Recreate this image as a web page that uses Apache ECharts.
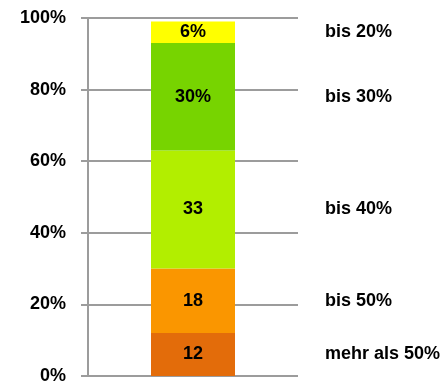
<!DOCTYPE html>
<html>
<head>
<meta charset="utf-8">
<style>
  html, body { margin: 0; padding: 0; background: #ffffff; }
  #chart { width: 445px; height: 385px; }
</style>
<script src="https://cdn.jsdelivr.net/npm/echarts@6/dist/echarts.min.js"></script>
</head>
<body>
<div id="chart"></div>
<script>
// Share of respondents per band, stacked from bottom to top
const bands = ['mehr als 50%', 'bis 50%', 'bis 40%', 'bis 30%', 'bis 20%'];
const shares = [12, 18, 33, 30, 6];
const valueLabels = ['12', '18', '33', '30%', '6%'];
const bandColors = ['#E36C0A', '#FA9600', '#B2EE00', '#77D400', '#FFFF00'];
const yTicks = [0, 20, 40, 60, 80, 100];

const category = ['Anteil'];
const font = 'Liberation Sans, Arial, sans-serif';

// midpoint of every stacked segment, used to place the band names on the right
const mids = [];
let acc = 0;
shares.forEach(v => { mids.push(acc + v / 2); acc += v; });

const barSeries = shares.map((v, i) => ({
  name: bands[i],
  type: 'bar',
  stack: 'total',
  barWidth: 84,
  data: [v],
  itemStyle: { color: bandColors[i] },
  label: {
    show: true,
    position: 'inside',
    formatter: () => valueLabels[i],
    color: '#000000',
    fontFamily: font,
    fontWeight: 'bold',
    fontSize: 18
  },
  emphasis: { disabled: true }
}));

const nameSeries = {
  type: 'scatter',
  symbolSize: 0,
  silent: true,
  itemStyle: { opacity: 1 },
  data: mids.map((m, i) => ({ value: [category[0], m], name: bands[i] })),
  label: {
    show: true,
    position: 'right',
    distance: 132,
    formatter: p => p.name,
    color: '#000000',
    opacity: 1,
    fontFamily: font,
    fontWeight: 'bold',
    fontSize: 18
  },
  z: 5
};

const chart = echarts.init(document.getElementById('chart'), null, { renderer: 'canvas' });
chart.setOption({
  animation: false,
  backgroundColor: '#ffffff',
  grid: { left: 88, right: 147, top: 18, bottom: 5, containLabel: false },
  xAxis: {
    type: 'category',
    data: category,
    axisLine: { show: false },
    axisTick: { show: false },
    axisLabel: { show: false },
    splitLine: { show: false }
  },
  yAxis: {
    type: 'value',
    min: yTicks[0],
    max: yTicks[yTicks.length - 1],
    interval: yTicks[1] - yTicks[0],
    axisLine: { show: true, lineStyle: { color: '#9c9c9c', width: 2 } },
    axisTick: { show: true, length: 7, lineStyle: { color: '#9c9c9c', width: 2 } },
    splitLine: { show: true, lineStyle: { color: '#9c9c9c', width: 2 } },
    axisLabel: {
      formatter: '{value}%',
      margin: 22,
      color: '#000000',
      fontFamily: font,
      fontWeight: 'bold',
      fontSize: 18
    }
  },
  series: [...barSeries, nameSeries]
});
</script>
</body>
</html>
